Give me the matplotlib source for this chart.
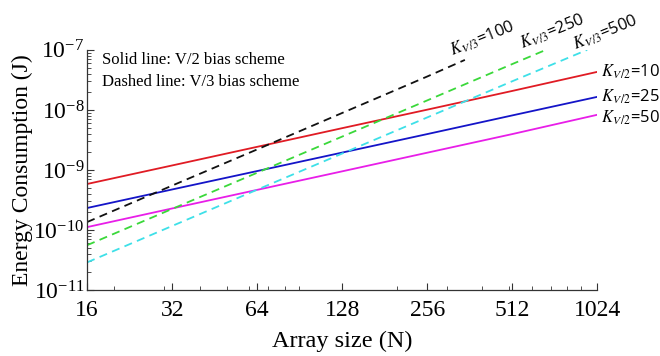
"""Energy consumption vs array size for V/2 and V/3 bias schemes."""

import matplotlib

matplotlib.use("Agg")
from matplotlib import pyplot as plt  # noqa: E402
from matplotlib import ticker  # noqa: E402

plt.rcParams["font.family"] = ["Liberation Serif", "DejaVu Serif"]
plt.rcParams["mathtext.fontset"] = "stix"

# array sizes (powers of two) shared by the solid V/2 lines
sizes = [16, 32, 64, 128, 256, 512, 1024]
energy_ticks = [1e-11, 1e-10, 1e-9, 1e-8, 1e-7]

# V/2 bias scheme, energy (J)
v2_k10 = [5.85e-10, 1.19e-9, 2.43e-9, 4.97e-9, 1.01e-8, 2.07e-8, 4.3e-8]
v2_k25 = [2.33e-10, 4.74e-10, 9.6e-10, 1.95e-9, 3.96e-9, 8.1e-9, 1.65e-8]
v2_k50 = [1.12e-10, 2.29e-10, 4.67e-10, 9.5e-10, 1.94e-9, 3.96e-9, 8.3e-9]

# V/3 bias scheme, energy (J); dashed lines stop short of the right edge
v3_k100_sizes = [16, 32, 64, 128, 256, 348]
v3_k100 = [1.36e-10, 5.5e-10, 2.2e-9, 8.9e-9, 3.6e-8, 6.8e-8]
v3_k250_sizes = [16, 32, 64, 128, 256, 512, 674]
v3_k250 = [5.6e-11, 2.25e-10, 9.0e-10, 3.6e-9, 1.44e-8, 5.8e-8, 1.0e-7]
v3_k500_sizes = [16, 32, 64, 128, 256, 512, 943]
v3_k500 = [2.9e-11, 1.17e-10, 4.7e-10, 1.88e-9, 7.5e-9, 3.0e-8, 1.0e-7]

solid = [
    (v2_k10, "#e01b24", r"$K_{V\,/2}$=10"),
    (v2_k25, "#1414c8", r"$K_{V\,/2}$=25"),
    (v2_k50, "#e81ee8", r"$K_{V\,/2}$=50"),
]
dashed = [
    (v3_k100_sizes, v3_k100, "#111111", r"$K_{V\,/3}$=100"),
    (v3_k250_sizes, v3_k250, "#3ad83a", r"$K_{V\,/3}$=250"),
    (v3_k500_sizes, v3_k500, "#3ee0e8", r"$K_{V\,/3}$=500"),
]

fig = plt.figure(figsize=(6.6, 3.56), dpi=100)
ax = fig.add_axes([0.132, 0.185, 0.773, 0.675])

label_font = ["Open Sans", "DejaVu Sans"]

for values, color, label in solid:
    ax.plot(sizes, values, color=color, linewidth=1.3)
for xs, values, color, label in dashed:
    ax.plot(xs, values, color=color, linewidth=1.3, linestyle=(0, (4.5, 3)))

# right-hand labels for the solid lines
solid_offsets = [0, 0, -2]
for (values, color, label), dy in zip(solid, solid_offsets):
    ax.annotate(
        label, (sizes[-1], values[-1]), xytext=(3, dy), textcoords="offset points",
        ha="left", va="center", fontsize=12, family=label_font,
        annotation_clip=False,
    )

# rotated labels above the ends of the dashed lines
dashed_offsets = [(-8, 0), (-16, -2), (-7, -3)]
for (xs, values, color, label), (dx, dy) in zip(dashed, dashed_offsets):
    ax.annotate(
        label, (xs[-1], values[-1]), xytext=(dx, dy), textcoords="offset points",
        ha="left", va="bottom", fontsize=12, family=label_font, rotation=22,
        rotation_mode="anchor", annotation_clip=False,
    )

ax.text(0.03, 0.99, "Solid line: V/2 bias scheme", transform=ax.transAxes,
        ha="left", va="top", fontsize=12)
ax.text(0.03, 0.90, "Dashed line: V/3 bias scheme", transform=ax.transAxes,
        ha="left", va="top", fontsize=12)

ax.set_xscale("log")
ax.set_yscale("log")
ax.set_xlim(16, 1024)
ax.set_ylim(1e-11, 1e-7)

ax.xaxis.set_major_locator(ticker.FixedLocator(sizes))
ax.xaxis.set_major_formatter(ticker.FixedFormatter([str(s) for s in sizes]))
ax.xaxis.set_minor_locator(ticker.LogLocator(base=10, subs=range(2, 10)))
ax.xaxis.set_minor_formatter(ticker.NullFormatter())
ax.yaxis.set_major_locator(ticker.FixedLocator(energy_ticks))
ax.yaxis.set_major_formatter(ticker.LogFormatterSciNotation())
ax.yaxis.set_minor_locator(ticker.LogLocator(base=10, subs=range(2, 10), numticks=10))
ax.yaxis.set_minor_formatter(ticker.NullFormatter())

ax.tick_params(axis="both", which="both", direction="in", colors="#333333",
               labelcolor="black", labelsize=17)
ax.tick_params(axis="both", which="major", length=5, width=0.8)
ax.tick_params(axis="both", which="minor", length=3, width=0.6)
ax.tick_params(axis="x", pad=7)
ax.tick_params(axis="y", pad=2)

for side in ("top", "right"):
    ax.spines[side].set_visible(False)
for side in ("left", "bottom"):
    ax.spines[side].set_color("#333333")
    ax.spines[side].set_linewidth(0.9)

ax.set_xlabel("Array size (N)", fontsize=17.5, labelpad=7)
ax.set_ylabel("Energy Consumption (J)", fontsize=17, labelpad=0)

fig.savefig("out.png", dpi=100)
plt.close(fig)
